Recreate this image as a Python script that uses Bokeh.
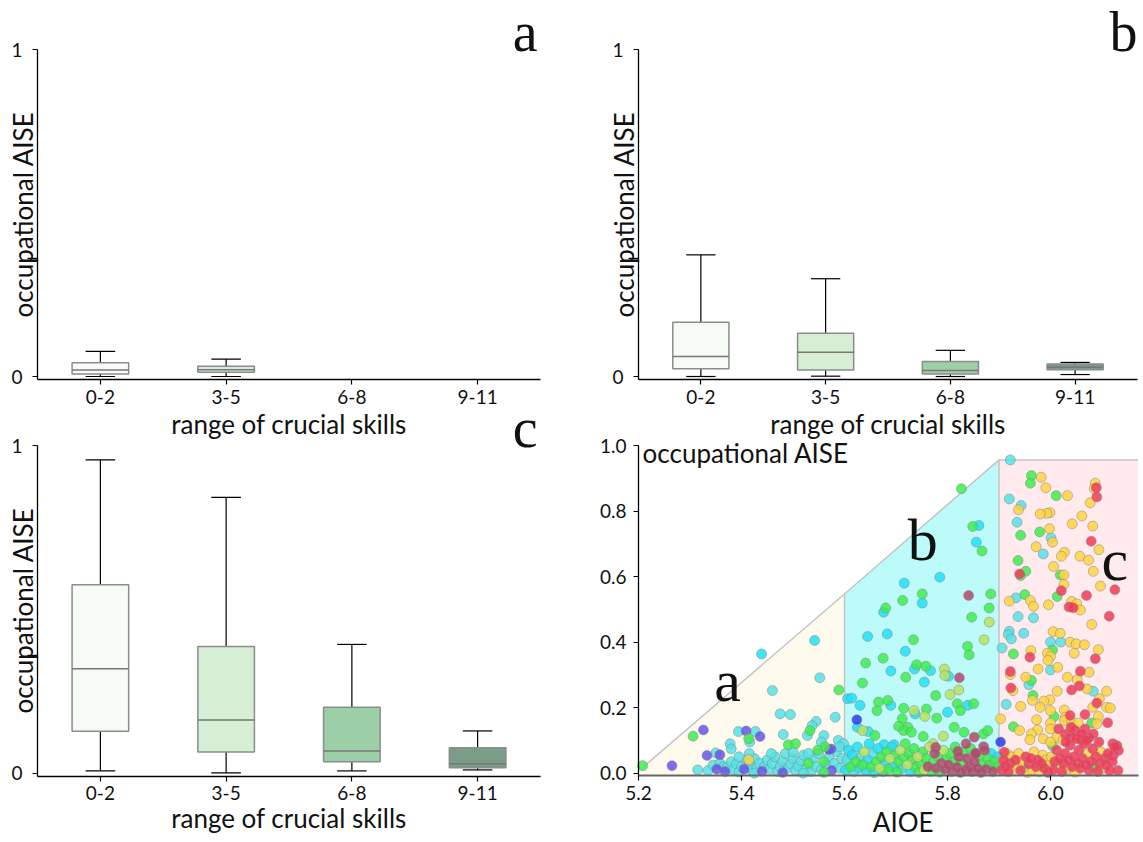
import math
from bokeh.plotting import figure
from bokeh.models import Range1d, FixedTicker, Label, LinearAxis
from bokeh.embed import file_html
from bokeh.resources import INLINE

# ---------------- data ----------------
categories = ["0-2", "3-5", "6-8", "9-11"]
box_colors = ["#f7fbf6", "#d5eed4", "#9ccea8", "#7a9d88"]

# panel a (two groups only)
a_lo = [0.0, 0.0]
a_q1 = [0.008, 0.013]
a_med = [0.020, 0.021]
a_q3 = [0.042, 0.031]
a_hi = [0.077, 0.053]

# panel b
b_lo = [0.0, 0.001, 0.0, 0.006]
b_q1 = [0.024, 0.020, 0.008, 0.021]
b_med = [0.061, 0.074, 0.018, 0.028]
b_q3 = [0.166, 0.132, 0.046, 0.038]
b_hi = [0.372, 0.299, 0.080, 0.043]

# panel c
c_lo = [0.007, 0.001, 0.007, 0.010]
c_q1 = [0.128, 0.065, 0.035, 0.017]
c_med = [0.319, 0.162, 0.068, 0.029]
c_q3 = [0.575, 0.387, 0.201, 0.078]
c_hi = [0.956, 0.842, 0.393, 0.129]

# panel d scatter (AIOE, occupational AISE), grouped by colour
purple_x = [5.265, 5.326, 5.333, 5.358, 5.409, 5.436, 5.574, 5.352, 5.368, 5.405, 5.44, 5.575, 5.57, 5.48]
purple_y = [0.023, 0.132, 0.054, 0.056, 0.129, 0.112, 0.074, 0.012, 0.005, 0.012, 0.006, 0.008, 0.072, 0.002]

blue_x = [5.903, 5.624]
blue_y = [0.095, 0.163]

cyan_x = [5.378, 5.38, 5.394, 5.416, 5.427, 5.46, 5.475, 5.495, 5.481, 5.528, 5.545, 5.552, 5.537, 5.56, 5.555,
          5.582, 5.588, 5.35,
          5.315, 5.335, 5.345, 5.358, 5.365, 5.372, 5.38, 5.385, 5.39, 5.395, 5.40, 5.41, 5.415, 5.42, 5.425, 5.43,
          5.435, 5.445, 5.45, 5.455, 5.46, 5.465, 5.47, 5.475, 5.48, 5.485, 5.49, 5.495, 5.50, 5.505, 5.51, 5.515,
          5.52, 5.525, 5.535, 5.54, 5.545, 5.55, 5.555, 5.565, 5.57, 5.58, 5.585, 5.59, 5.595, 5.598, 5.458, 5.50,
          5.53, 5.59, 5.425, 5.52, 5.415, 5.395,
          5.605, 5.618, 5.632, 5.655,
          5.922, 5.92, 5.943, 5.935, 6.001, 5.986, 5.933, 5.937, 5.967, 5.92, 5.918, 5.948, 5.924, 5.906, 6.0, 6.02,
          6.0, 5.958, 6.083, 5.914]
cyan_y = [0.090, 0.074, 0.127, 0.095, 0.127, 0.252, 0.181, 0.179, 0.118, 0.115, 0.158, 0.291, 0.145, 0.115, 0.095,
          0.171, 0.100, 0.062,
          0.010, 0.008, 0.025, 0.030, 0.020, 0.018, 0.035, 0.010, 0.028, 0.004, 0.020, 0.040, 0.026, 0.008, 0.045, 0.018,
          0.030, 0.022, 0.040, 0.012, 0.030, 0.050, 0.005, 0.020, 0.036, 0.060, 0.015, 0.028, 0.045, 0.008, 0.022, 0.038,
          0.055, 0.012, 0.005, 0.045, 0.020, 0.060, 0.010, 0.025, 0.050, 0.030, 0.065, 0.015, 0.045, 0.090, 0.060, 0.065,
          0.060, 0.080, 0.000, 0.000, 0.060, 0.050,
          0.040, 0.005, 0.050, 0.060,
          0.956, 0.837, 0.817, 0.766, 0.718, 0.669, 0.535, 0.478, 0.474, 0.433, 0.423, 0.427, 0.410, 0.382, 0.400, 0.400,
          0.315, 0.270, 0.250, 0.210]

sky_x = [5.856, 5.861, 5.785, 5.716, 5.751, 5.676, 5.645, 5.683, 5.718, 5.69, 5.736, 5.767, 5.755, 5.802, 5.839,
         5.8, 5.737, 5.69, 5.63, 5.606, 5.614, 5.625, 5.646, 5.677, 5.696, 5.439, 5.542,
         5.602, 5.608, 5.615, 5.625, 5.628, 5.642, 5.645, 5.648, 5.658, 5.665, 5.678, 5.692, 5.695, 5.712, 5.728,
         5.885, 5.898]
sky_y = [0.705, 0.756, 0.598, 0.580, 0.519, 0.491, 0.417, 0.425, 0.372, 0.312, 0.318, 0.313, 0.278, 0.296, 0.207,
         0.186, 0.181, 0.207, 0.207, 0.227, 0.229, 0.140, 0.127, 0.087, 0.087, 0.364, 0.405,
         0.010, 0.070, 0.055, 0.080, 0.015, 0.008, 0.040, 0.090, 0.002, 0.075, 0.030, 0.080, 0.020, 0.015, 0.005,
         0.060, 0.050]

green_x = [5.208, 5.306, 5.414, 5.491, 5.505, 5.533, 5.589, 5.562, 5.53, 5.56, 5.548, 5.56,
           5.827, 5.849, 5.867, 5.751, 5.713, 5.68, 5.884, 5.881, 5.847, 5.734, 5.839, 5.842, 5.641, 5.675, 5.74,
           5.758, 5.719, 5.635, 5.819, 5.851, 5.825, 5.777, 5.779, 5.759, 5.715, 5.712, 5.723, 5.705, 5.684, 5.666,
           5.663, 5.659, 5.715, 5.73, 5.753, 5.813, 5.832, 5.87, 5.878,
           5.612, 5.622, 5.635, 5.652, 5.662, 5.672, 5.675, 5.682, 5.685, 5.698, 5.702, 5.705, 5.715, 5.718, 5.725,
           5.732, 5.735, 5.738, 5.745, 5.748, 5.752, 5.758, 5.768, 5.772, 5.782, 5.785, 5.798, 5.805, 5.812, 5.815,
           5.828, 5.832, 5.845, 5.862, 5.868, 5.878, 5.882, 5.892, 5.895,
           5.963, 5.961, 6.011, 5.942, 5.979, 5.937, 5.952, 5.942, 6.019, 5.95, 6.013, 6.004, 5.928, 5.963, 5.966,
           6.007, 6.08, 5.928, 6.004, 5.948, 6.085]
green_y = [0.023, 0.113, 0.105, 0.087, 0.090, 0.130, 0.254, 0.081, 0.030, 0.035, 0.070, 0.002,
           0.868, 0.753, 0.678, 0.547, 0.527, 0.504, 0.547, 0.504, 0.476, 0.407, 0.387, 0.361, 0.336, 0.351, 0.331,
           0.326, 0.293, 0.275, 0.212, 0.212, 0.191, 0.237, 0.168, 0.196, 0.198, 0.166, 0.140, 0.143, 0.222, 0.217,
           0.191, 0.115, 0.130, 0.125, 0.112, 0.140, 0.125, 0.120, 0.130,
           0.020, 0.035, 0.025, 0.020, 0.035, 0.050, 0.005, 0.065, 0.012, 0.055, 0.003, 0.035, 0.050, 0.090, 0.060,
           0.040, 0.075, 0.018, 0.002, 0.030, 0.065, 0.045, 0.005, 0.035, 0.050, 0.003, 0.045, 0.060, 0.035, 0.080,
           0.030, 0.065, 0.075, 0.050, 0.030, 0.045, 0.025, 0.035, 0.018,
           0.908, 0.885, 0.847, 0.726, 0.736, 0.649, 0.616, 0.603, 0.605, 0.545, 0.539, 0.376, 0.364, 0.283, 0.237,
           0.173, 0.153, 0.142, 0.084, 0.015, 0.018]

ygreen_x = [5.635, 5.881, 5.871, 5.794, 5.795, 5.805, 5.822, 5.756, 5.735, 5.772, 5.792,
            5.638, 5.668, 5.688, 5.708, 5.722, 5.742, 5.755, 5.765, 5.792]
ygreen_y = [0.130, 0.461, 0.407, 0.318, 0.298, 0.240, 0.254, 0.173, 0.191, 0.090, 0.113,
            0.065, 0.015, 0.045, 0.070, 0.025, 0.050, 0.010, 0.080, 0.070]

maroon_x = [5.841, 5.823, 5.852, 5.87, 5.836, 5.777, 5.82, 5.854,
            5.762, 5.775, 5.778, 5.788, 5.795, 5.802, 5.808, 5.818, 5.822, 5.825, 5.835, 5.838, 5.842, 5.848,
            5.852, 5.855, 5.858, 5.865, 5.872, 5.875, 5.888]
maroon_y = [0.542, 0.291, 0.110, 0.081, 0.090, 0.079, 0.067, 0.061,
            0.020, 0.060, 0.015, 0.030, 0.012, 0.025, 0.005, 0.018, 0.050, 0.002, 0.010, 0.045, 0.020, 0.005,
            0.035, 0.060, 0.015, 0.002, 0.070, 0.012, 0.005]

yellow_x = [5.982, 5.991, 6.033, 6.087, 6.085, 6.077, 5.938, 5.999, 5.993, 5.98, 6.061, 6.042, 6.082, 5.998, 6.004,
            5.972, 6.094, 6.027, 6.021, 6.057, 6.074, 6.006, 6.083, 6.026, 6.026, 6.097, 5.92, 5.961, 5.967, 5.996,
            6.041, 6.051, 6.058, 6.08, 6.005, 6.019, 6.038, 6.05, 6.066, 6.046, 6.093, 5.962, 5.994, 6.0, 5.995,
            6.014, 5.976, 5.922, 6.075, 5.952, 6.033, 6.052, 5.927, 6.013, 6.071, 6.109, 5.965, 5.999, 5.987, 6.095,
            5.942, 5.98, 6.0, 6.027, 6.082, 6.109, 6.116, 6.029, 6.093, 5.903, 5.973, 6.0, 6.027, 6.041, 6.054,
            6.09, 5.94, 5.975, 6.0, 6.038, 5.963, 5.96, 5.986, 6.012, 6.0, 6.024, 5.414,
            5.908, 5.915, 5.925, 5.928, 5.935, 5.938, 5.945, 5.955, 5.965, 5.968, 5.978, 5.985, 5.992, 5.998, 6.002,
            6.015, 6.032, 6.048, 6.072, 6.098, 6.102]
yellow_y = [0.903, 0.871, 0.847, 0.885, 0.868, 0.825, 0.804, 0.795, 0.793, 0.791, 0.785, 0.761, 0.754, 0.746, 0.705,
            0.691, 0.682, 0.674, 0.662, 0.662, 0.650, 0.631, 0.616, 0.605, 0.576, 0.571, 0.525, 0.527, 0.509, 0.514,
            0.524, 0.517, 0.498, 0.454, 0.432, 0.427, 0.400, 0.395, 0.392, 0.366, 0.377, 0.374, 0.366, 0.356, 0.344,
            0.323, 0.318, 0.301, 0.308, 0.293, 0.293, 0.285, 0.252, 0.250, 0.257, 0.250, 0.222, 0.224, 0.220, 0.227,
            0.204, 0.201, 0.191, 0.193, 0.201, 0.201, 0.199, 0.171, 0.173, 0.166, 0.163, 0.153, 0.161, 0.156, 0.153,
            0.151, 0.130, 0.132, 0.135, 0.130, 0.120, 0.102, 0.105, 0.110, 0.095, 0.100, 0.041,
            0.040, 0.060, 0.050, 0.012, 0.025, 0.060, 0.035, 0.002, 0.010, 0.065, 0.005, 0.055, 0.040, 0.025, 0.050,
            0.018, 0.012, 0.003, 0.060, 0.065, 0.015]

red_x = [6.089, 6.09, 6.079, 5.94, 6.021, 6.125, 6.07, 6.036, 6.044, 6.114, 5.96, 6.087, 5.922, 6.058, 6.056,
         5.923, 6.041, 6.09, 6.038, 6.067, 6.111, 6.016, 6.067, 6.029, 6.048, 6.083, 6.039, 6.059, 6.075, 6.094,
         6.121, 6.129, 6.122, 6.132, 6.131,
         5.905, 5.912, 5.918, 5.922, 5.932, 5.942, 5.952, 5.958, 5.962, 5.972, 5.975, 5.982, 5.988, 5.995, 6.005,
         6.008, 6.012, 6.018, 6.022, 6.025, 6.028, 6.035, 6.038, 6.042, 6.045, 6.052, 6.055, 6.058, 6.062, 6.065,
         6.068, 6.075, 6.078, 6.082, 6.088, 6.092, 6.095, 6.105, 6.108, 6.112, 6.115, 6.12, 6.125, 6.03, 6.05,
         6.07, 6.04, 6.06, 5.91, 5.909]
red_y = [0.871, 0.843, 0.708, 0.608, 0.557, 0.560, 0.542, 0.507, 0.505, 0.479, 0.354, 0.349, 0.310, 0.311, 0.266,
         0.260, 0.254, 0.214, 0.176, 0.179, 0.154, 0.135, 0.135, 0.118, 0.130, 0.120, 0.110, 0.102, 0.108, 0.095,
         0.090, 0.084, 0.054, 0.069, 0.008,
         0.010, 0.020, 0.005, 0.030, 0.040, 0.008, 0.050, 0.028, 0.045, 0.020, 0.040, 0.030, 0.015, 0.002, 0.010,
         0.035, 0.070, 0.045, 0.005, 0.030, 0.060, 0.040, 0.085, 0.020, 0.050, 0.030, 0.070, 0.015, 0.045, 0.090,
         0.025, 0.008, 0.035, 0.075, 0.050, 0.005, 0.030, 0.045, 0.025, 0.060, 0.008, 0.035, 0.080, 0.095, 0.105,
         0.100, 0.140, 0.120, 0.064, 0.039]

# region boundary of panel d (AIOE break points and AISE upper envelope)
bound_x = [5.21, 5.6, 5.9, 6.17]
bound_y = [0.02, 0.547, 0.956, 0.956]
region_fill = ["#fffaee", "#bdfbfb", "#ffebee"]

# ---------------- styling ----------------
FONT = "Lato"
TICK_SIZE = "19px"
LABEL_PX = 26
LETTER_PX = 56
LETTER_FONT = "Liberation Serif"
TXT = "#111111"
BASE_FIX = 0.35   # renderer places the alphabetic baseline this many em too low

W, H = 1141, 840

p = figure(width=W, height=H, x_range=Range1d(0, W), y_range=Range1d(H, 0),
           x_axis_location=None, y_axis_location=None, output_backend="svg",
           toolbar_location=None, title_location=None, min_border=0)
p.outline_line_color = None
p.background_fill_color = "white"
p.border_fill_color = "white"
p.grid.visible = False


def panel_ranges(name, x_val, x_px, x_scale, y_val, y_px, y_scale):
    """Register data ranges for one panel so that x_val sits at x_px (page pixels) etc."""
    p.extra_x_ranges[name + "x"] = Range1d(x_val - x_px / x_scale, x_val + (W - x_px) / x_scale)
    p.extra_y_ranges[name + "y"] = Range1d(y_val - (H - y_px) / y_scale, y_val + y_px / y_scale)
    return dict(x_range_name=name + "x", y_range_name=name + "y")


def style_axis(ax):
    ax.major_label_text_font = FONT
    ax.major_label_text_font_size = TICK_SIZE
    ax.major_label_text_color = TXT
    ax.axis_line_color = "black"
    ax.axis_line_width = 1.3
    ax.major_tick_line_color = "black"
    ax.major_tick_line_width = 1.2
    ax.major_tick_in = 0
    ax.major_tick_out = 5
    ax.major_label_standoff = 5
    ax.minor_tick_line_color = None


def add_axes(rn, x_at, y_at, xb, yb, xticks, yticks, xlabels, ylabels, minor=None):
    xa = LinearAxis(fixed_location=x_at, bounds=xb, ticker=FixedTicker(ticks=xticks), **rn)
    ya = LinearAxis(fixed_location=y_at, bounds=yb,
                    ticker=FixedTicker(ticks=yticks, minor_ticks=minor or []), **rn)
    style_axis(xa)
    style_axis(ya)
    xa.major_label_overrides = xlabels
    ya.major_label_overrides = ylabels
    if minor:
        ya.minor_tick_out = 10
        ya.minor_tick_in = 0
        ya.minor_tick_line_color = "black"
        ya.minor_tick_line_width = 1.5
    p.add_layout(xa, "below")
    p.add_layout(ya, "left")
    return xa, ya


def add_boxes(rn, lo, q1, med, q3, hi):
    n = len(q1)
    xs = list(range(n))
    half_box = 0.225
    half_cap = 0.1175
    p.segment(x0=xs, y0=q3, x1=xs, y1=hi, line_color="black", line_width=1.2, **rn)
    p.segment(x0=xs, y0=q1, x1=xs, y1=lo, line_color="black", line_width=1.2, **rn)
    p.segment(x0=[x - half_cap for x in xs], y0=hi, x1=[x + half_cap for x in xs], y1=hi,
              line_color="black", line_width=1.2, **rn)
    p.segment(x0=[x - half_cap for x in xs], y0=lo, x1=[x + half_cap for x in xs], y1=lo,
              line_color="black", line_width=1.2, **rn)
    p.vbar(x=xs, width=2 * half_box, top=q3, bottom=q1, fill_color=box_colors[:n],
           line_color="#8c8c8c", line_width=1.5, **rn)
    p.segment(x0=[x - half_box for x in xs], y0=med, x1=[x + half_box for x in xs], y1=med,
              line_color="#777777", line_width=1.5, **rn)


def text_label(rn, x, y, text, px=LABEL_PX, font=FONT, align="center", vertical=False):
    fix = BASE_FIX * px
    kw = dict(x=x, y=y, text=text, text_font=font, text_font_size="%dpx" % px,
              text_align=align, text_baseline="alphabetic", text_color=TXT, **rn)
    if vertical:
        kw.update(angle=math.pi / 2, x_offset=-fix)
    else:
        kw.update(y_offset=fix)
    p.add_layout(Label(**kw))


cat_labels = {i: c for i, c in enumerate(categories)}
PXC = 503 / 4.0      # panels a, c: category axis from px 37 to 540
PXB = 499 / 4.0      # panel b: category axis from px 638 to 1137
PYT = 327.0          # top row: 0 at px 376, 1 at px 49
PYB = 327.7          # bottom row: 0 at px 772.7, 1 at px 445
PXD = 515.0          # panel d: 5.2 at px 638

# ---------------- panel a ----------------
ra = panel_ranges("a", -0.5, 37, PXC, 0.0, 376, PYT)
add_axes(ra, -3 / PYT, -0.5, (-0.5, 3.5), (-3 / PYT, 1.0), [0, 1, 2, 3], [0, 1],
         cat_labels, {0: "0", 1: "1"}, minor=[0.36])
add_boxes(ra, a_lo, a_q1, a_med, a_q3, a_hi)
text_label(ra, -0.5 - 5 / PXC, (376 - 214) / PYT, "occupational AISE", vertical=True)
text_label(ra, 1.5, -(433 - 376) / PYT, "range of crucial skills")
text_label(ra, 3.476, (376 - 51) / PYT, "a", LETTER_PX, LETTER_FONT, "right")

# ---------------- panel b ----------------
rb = panel_ranges("b", -0.5, 638, PXB, 0.0, 376, PYT)
add_axes(rb, -3 / PYT, -0.5, (-0.5, 3.5), (-3 / PYT, 1.0), [0, 1, 2, 3], [0, 1],
         cat_labels, {0: "0", 1: "1"}, minor=[0.36])
add_boxes(rb, b_lo, b_q1, b_med, b_q3, b_hi)
text_label(rb, -0.5 - 5 / PXB, (376 - 214) / PYT, "occupational AISE", vertical=True)
text_label(rb, 1.5, -(433 - 376) / PYT, "range of crucial skills")
text_label(rb, 3.5, (376 - 51) / PYT, "b", LETTER_PX, LETTER_FONT, "right")

# ---------------- panel c ----------------
rc = panel_ranges("c", -0.5, 37, PXC, 0.0, 772.7, PYB)
add_axes(rc, -3 / PYB, -0.5, (-0.5, 3.5), (-3 / PYB, 1.0), [0, 1, 2, 3], [0, 1],
         cat_labels, {0: "0", 1: "1"}, minor=[0.36])
add_boxes(rc, c_lo, c_q1, c_med, c_q3, c_hi)
text_label(rc, -0.5 - 5 / PXC, 0.4965, "occupational AISE", vertical=True)
text_label(rc, 1.5, -(827 - 772.7) / PYB, "range of crucial skills")
text_label(rc, 3.476, (772.7 - 447) / PYB, "c", LETTER_PX, LETTER_FONT, "right")

# ---------------- panel d ----------------
rd = panel_ranges("d", 5.2, 638, PXD, 0.0, 772.7, PYB)
xt = [5.2, 5.4, 5.6, 5.8, 6.0]
yt = [0.0, 0.2, 0.4, 0.6, 0.8, 1.0]
xd_axis, yd_axis = add_axes(rd, -2.3 / PYB, 5.2, (5.2, 6.17), (-2.3 / PYB, 1.0), xt, yt,
                            {v: "%.1f" % v for v in xt}, {v: "%.1f" % v for v in yt})
yd_axis.major_label_standoff = 7
xd_axis.axis_line_color = "#666666"
xd_axis.axis_line_width = 2

for i in range(3):
    x0, x1 = bound_x[i], bound_x[i + 1]
    ya_, yb_ = bound_y[i], bound_y[i + 1]
    p.patch([x0, x0, x1, x1], [-0.007, ya_, yb_, -0.007], fill_color=region_fill[i],
            line_color=None, **rd)
p.line(bound_x, bound_y, line_color="#c4c4c4", line_width=1.5, **rd)
p.segment(x0=[bound_x[1], bound_x[2]], y0=[-0.007, -0.007], x1=[bound_x[1], bound_x[2]],
          y1=[bound_y[1], bound_y[2]], line_color="#c4c4c4", line_width=1.5, **rd)

series = [
    (cyan_x, cyan_y, "#52e3e8"),
    (purple_x, purple_y, "#6652ea"),
    (sky_x, sky_y, "#1fe0f7"),
    (green_x, green_y, "#3ded4c"),
    (ygreen_x, ygreen_y, "#b9e35e"),
    (maroon_x, maroon_y, "#b4486a"),
    (blue_x, blue_y, "#2a3cf0"),
    (yellow_x, yellow_y, "#ffd43f"),
    (red_x, red_y, "#f33a58"),
]
for sx, sy, col in series:
    p.scatter(sx, sy, size=10, fill_color=col, fill_alpha=0.85, line_color="#8a8a8a",
              line_width=0.6, line_alpha=0.9, **rd)

text_label(rd, 5.208, 0.949, "occupational AISE", align="left")
text_label(rd, 5.714, -0.178, "AIOE")
text_label(rd, 5.373, 0.217, "a", 60, LETTER_FONT)
text_label(rd, 5.752, 0.649, "b", 60, LETTER_FONT)
text_label(rd, 6.125, 0.588, "c", 60, LETTER_FONT)

open("out.html", "w").write(file_html(p, INLINE))
